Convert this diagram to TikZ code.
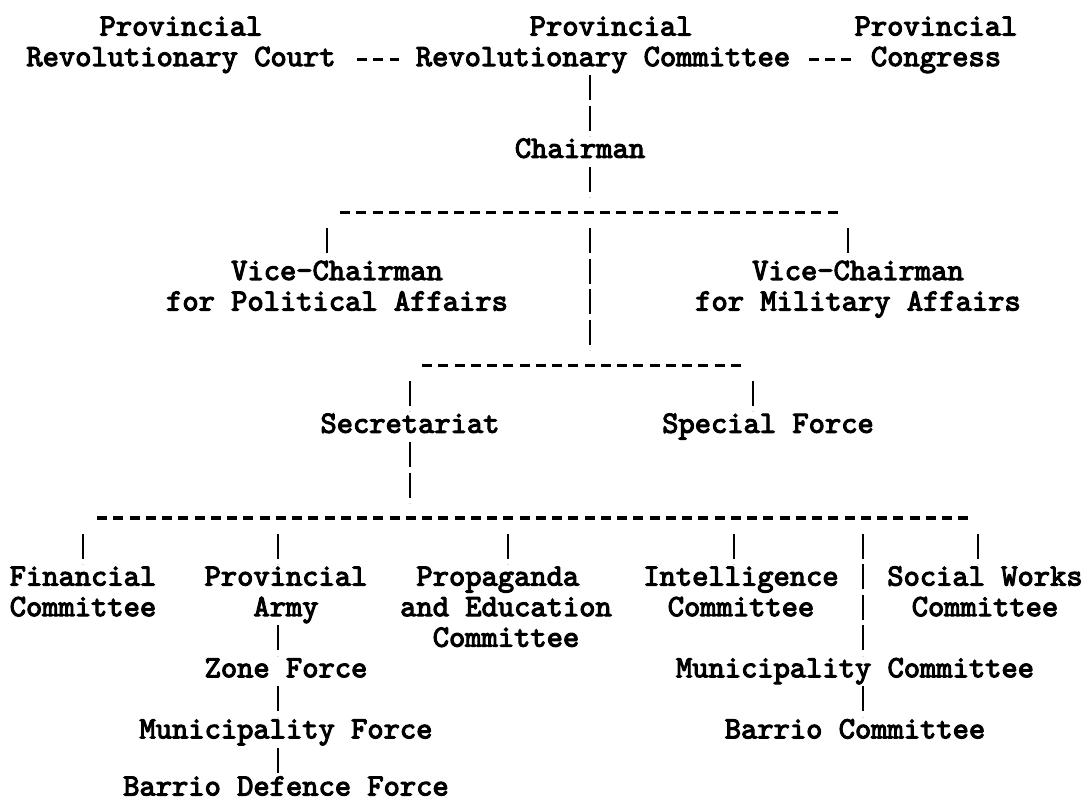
\documentclass[tikz,border=0pt]{standalone}
\usepackage{fontspec}
\newfontfamily\typew{lmmono10-regular.otf}[FakeBold=3.5]
\usetikzlibrary{calc}
\begin{document}
\begin{tikzpicture}[x=0.75pt,y=-0.75pt,
  declare function={ny(\k)=14.1+30.56*\k; dy(\k)=29+30.56*\k;},
  lbl/.style={anchor=north,inner sep=0pt,outer sep=0pt,align=center,
    font=\typew\bfseries\fontsize{23.25pt}{22.92pt}\selectfont},
  vbar/.style={line width=1.6pt,dash pattern=on 18.75pt off 4.17pt},
  hyph/.style={line width=2.4pt,dash pattern=on 7.5pt off 4.6875pt}]
\fill[white] (0,0) rectangle (1082,801);
\useasboundingbox (0,0) rectangle (1082,801);

% nodes
\node[lbl] (court) at (181,{ny(0)}) {\strut Provincial\\\strut Revolutionary Court};
\node[lbl] (rc)    at (603,{ny(0)}) {\strut\hphantom{x}Provincial\\\strut Revolutionary Committee};
\node[lbl] (cong)  at (936,{ny(0)}) {\strut Provincial\\\strut Congress};
\node[lbl] (chair) at (580,{ny(4)}) {\strut Chairman};
\node[lbl] (vp)    at (337,{ny(8)}) {\strut Vice-Chairman\\\strut for Political Affairs};
\node[lbl] (vm)    at (858,{ny(8)}) {\strut Vice-Chairman\\\strut for Military Affairs};
\node[lbl] (sec)   at (410,{ny(13)}) {\strut Secretariat};
\node[lbl] (sf)    at (768,{ny(13)}) {\strut Special Force};
\node[lbl] (fin)   at (83,{ny(18)})  {\strut Financial\\\strut Committee};
\node[lbl] (pa)    at (286,{ny(18)}) {\strut Provincial\\\strut Army};
\node[lbl] (ped)   at (506,{ny(18)}) {\strut Propaganda\hphantom{x}\\\strut and Education\\\strut Committee};
\node[lbl] (int)   at (741,{ny(18)}) {\strut Intelligence\\\strut Committee};
\node[lbl] (sw)    at (985,{ny(18)}) {\strut Social Works\\\strut Committee};
\node[lbl] (zf)    at (286,{ny(21)}) {\strut Zone Force};
\node[lbl] (mc)    at (855,{ny(21)}) {\strut Municipality Committee};
\node[lbl] (mf)    at (286,{ny(23)}) {\strut Municipality Force};
\node[lbl] (bc)    at (855,{ny(23)}) {\strut Barrio Committee};
\node[lbl] (bdf)   at (286,{ny(25)-4}) {\rule{0pt}{16.04pt}Barrio Defence Force};

% bar columns and rows
\coordinate (xm)   at (590,0);
\coordinate (xvp)  at (327,0);
\coordinate (xvm)  at (848,0);
\coordinate (xsec) at (410,0);
\coordinate (xsf)  at (753,0);
\coordinate (x1)   at (83,0);
\coordinate (x2)   at (278,0);
\coordinate (x3)   at (508,0);
\coordinate (x4)   at (734,0);
\coordinate (x5)   at (863,0);
\coordinate (x6)   at (978,0);
\coordinate (r6)   at (0,{ny(6)});
\coordinate (r7)   at (0,{ny(7)});
\coordinate (r11)  at (0,{ny(11)});
\coordinate (r12)  at (0,{ny(12)});
\coordinate (r16)  at (0,{ny(16)});
\coordinate (r17)  at (0,{ny(17)});

% typed hyphen rows
\coordinate (d1a) at (340,{dy(6)});
\coordinate (d1b) at (837.5,{dy(6)});
\coordinate (d2a) at (422,{dy(11)});
\coordinate (d2b) at (740.75,{dy(11)});
\coordinate (d3a) at (97,{dy(16)});
\coordinate (d3b) at (968.25,{dy(16)});
\draw[hyph] (d1a) -- (d1b);
\draw[hyph] (d2a) -- (d2b);
\draw[hyph] (d3a) -- (d3b);

% top row links
\draw[hyph] ([shift={(21.4,15)}]court.east) -- ([shift={(-16.4,15)}]rc.west);
\draw[hyph] ([shift={(18.8,15)}]rc.east) -- ([shift={(-3.1,15)}]cong.west);

% vertical bars
\draw[vbar] (rc.south -| xm) -- (chair.north -| xm);
\draw[vbar] (chair.south -| xm) -- (xm |- r6);
\draw[vbar] (xm |- r7) -- (xm |- r11);
\draw[vbar] (xvp |- r7) -- (vp.north -| xvp);
\draw[vbar] (xvm |- r7) -- (vm.north -| xvm);
\draw[vbar] (xsec |- r12) -- (sec.north -| xsec);
\draw[vbar] (xsf |- r12) -- (sf.north -| xsf);
\draw[vbar] (sec.south -| xsec) -- (xsec |- r16);
\draw[vbar] (x1 |- r17) -- (fin.north -| x1);
\draw[vbar] (x2 |- r17) -- (pa.north -| x2);
\draw[vbar] (x3 |- r17) -- (ped.north -| x3);
\draw[vbar] (x4 |- r17) -- (int.north -| x4);
\draw[vbar] (x5 |- r17) -- (mc.north -| x5);
\draw[vbar] (x6 |- r17) -- (sw.north -| x6);
\draw[vbar] (pa.south -| x2) -- (zf.north -| x2);
\draw[vbar] (zf.south -| x2) -- (mf.north -| x2);
\draw[vbar] (mf.south -| x2) -- (bdf.north -| x2);
\draw[vbar] (mc.south -| x5) -- (bc.north -| x5);
\end{tikzpicture}
\end{document}
